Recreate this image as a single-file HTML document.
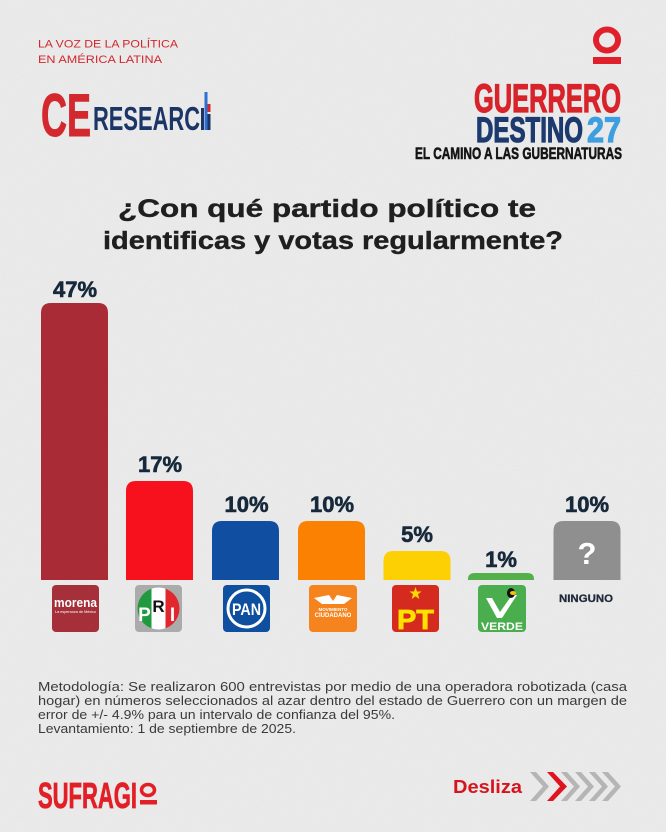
<!DOCTYPE html>
<html><head><meta charset="utf-8"><style>
html,body{margin:0;padding:0;background:#e9e9e9;}
svg{display:block;}
</style></head><body>
<svg xmlns="http://www.w3.org/2000/svg" width="666" height="832" viewBox="0 0 666 832">
<defs>
<filter id="n" x="0" y="0" width="100%" height="100%">
<feTurbulence type="fractalNoise" baseFrequency="0.9" numOctaves="2" seed="3"/>
<feColorMatrix type="matrix" values="0 0 0 0 0.5  0 0 0 0 0.5  0 0 0 0 0.5  0 0 0 -1.6 0.9"/>
</filter>
<clipPath id="pric"><circle cx="158.5" cy="608.5" r="21"/></clipPath>
</defs>
<rect width="666" height="832" fill="#eaeaea"/>
<rect width="666" height="832" filter="url(#n)" opacity="0.12"/>

<!-- header left -->
<g font-family="Liberation Sans, sans-serif" fill="#d0282d" font-size="11">
<text x="38" y="47.5" textLength="140" lengthAdjust="spacingAndGlyphs">LA VOZ DE LA POLÍTICA</text>
<text x="38" y="63" textLength="124" lengthAdjust="spacingAndGlyphs">EN AMÉRICA LATINA</text>
</g>
<text x="41" y="136" font-family="Liberation Sans, sans-serif" font-weight="bold" font-size="60" fill="#d3282e" stroke="#d3282e" stroke-width="1" textLength="50" lengthAdjust="spacingAndGlyphs">CE</text>
<text x="93" y="130" font-family="Liberation Sans, sans-serif" font-weight="bold" font-size="33" fill="#1b3566" textLength="107" lengthAdjust="spacingAndGlyphs">RESEARC</text>
<rect x="201" y="108" width="3" height="22" fill="#1b3566"/>
<rect x="204.5" y="92" width="3" height="38" fill="#2f6fcf"/>
<rect x="207.5" y="104" width="3" height="8" fill="#d3282e"/>
<rect x="207.5" y="114" width="3" height="16" fill="#1b3566"/>

<!-- header right -->
<ellipse cx="607" cy="40" rx="11" ry="10.5" fill="none" stroke="#e0202a" stroke-width="6"/>
<rect x="593" y="57" width="28" height="7" fill="#e0202a"/>
<text x="474" y="112" font-family="Liberation Sans, sans-serif" font-weight="bold" font-size="40" fill="#d8232b" stroke="#d8232b" stroke-width="1.2" textLength="147" lengthAdjust="spacingAndGlyphs">GUERRERO</text>
<text x="476" y="142" font-family="Liberation Sans, sans-serif" font-weight="bold" font-size="35" fill="#1c3a6e" stroke="#1c3a6e" stroke-width="1.2" textLength="107" lengthAdjust="spacingAndGlyphs">DESTINO</text>
<text x="587" y="142" font-family="Liberation Sans, sans-serif" font-weight="bold" font-size="35" fill="#3d9ee0" stroke="#3d9ee0" stroke-width="1.2" textLength="34" lengthAdjust="spacingAndGlyphs">27</text>
<text x="415" y="159" font-family="Liberation Sans, sans-serif" font-weight="bold" font-size="16.5" fill="#151515" stroke="#151515" stroke-width="0.6" textLength="207" lengthAdjust="spacingAndGlyphs">EL CAMINO A LAS GUBERNATURAS</text>

<!-- title -->
<g font-family="Liberation Sans, sans-serif" font-weight="bold" font-size="25" fill="#1f1f1f" stroke="#1f1f1f" stroke-width="0.4">
<text x="118" y="217" textLength="418" lengthAdjust="spacingAndGlyphs">¿Con qué partido político te</text>
<text x="103" y="249" textLength="460" lengthAdjust="spacingAndGlyphs">identificas y votas regularmente?</text>
</g>

<!-- bars -->
<path d="M41,580 V313 Q41,303 51,303 H98 Q108,303 108,313 V580 Z" fill="#a92b36"/>
<path d="M126,580 V491 Q126,481 136,481 H183 Q193,481 193,491 V580 Z" fill="#f7111d"/>
<path d="M212,580 V531 Q212,521 222,521 H269 Q279,521 279,531 V580 Z" fill="#0f4ea0"/>
<path d="M298,580 V531 Q298,521 308,521 H355 Q365,521 365,531 V580 Z" fill="#fb8103"/>
<path d="M383.5,580 V561 Q383.5,551 393.5,551 H440.5 Q450.5,551 450.5,561 V580 Z" fill="#fdd004"/>
<path d="M468,580 V579 Q468,573 475,573 H527 Q534,573 534,579 V580 Z" fill="#53b04b"/>
<path d="M553.5,580 V531 Q553.5,521 563.5,521 H610.5 Q620.5,521 620.5,531 V580 Z" fill="#8f8f8f"/>
<text x="587" y="564" text-anchor="middle" font-family="Liberation Sans, sans-serif" font-weight="bold" font-size="31" fill="#ffffff">?</text>

<!-- percent labels -->
<g font-family="Liberation Sans, sans-serif" font-weight="bold" font-size="22" fill="#16283a" stroke="#16283a" stroke-width="0.6" text-anchor="middle">
<text x="75" y="297">47%</text>
<text x="160" y="472">17%</text>
<text x="246.5" y="512">10%</text>
<text x="332" y="512">10%</text>
<text x="417" y="542">5%</text>
<text x="501" y="567">1%</text>
<text x="587" y="512">10%</text>
</g>

<!-- logos -->
<!-- morena -->
<rect x="52" y="585" width="47" height="47" rx="4" fill="#a5303a"/>
<text x="54" y="607" font-family="Liberation Sans, sans-serif" font-weight="bold" font-size="12.5" fill="#fff" textLength="43" lengthAdjust="spacingAndGlyphs">morena</text>
<text x="55" y="613" font-family="Liberation Sans, sans-serif" font-size="3.5" fill="#fff" textLength="41" lengthAdjust="spacingAndGlyphs">La esperanza de México</text>
<!-- PRI -->
<rect x="135" y="585" width="47" height="47" rx="4" fill="#ababab"/>
<g clip-path="url(#pric)">
<rect x="137" y="587" width="14.5" height="44" fill="#1f9a3e"/>
<rect x="151.5" y="587" width="14" height="44" fill="#ffffff"/>
<rect x="165.5" y="587" width="15" height="44" fill="#e1262d"/>
</g>
<g font-family="Liberation Sans, sans-serif" font-weight="bold" text-anchor="middle">
<text x="144.5" y="621" font-size="19" fill="#fff">P</text>
<text x="158.5" y="612" font-size="17" fill="#111">R</text>
<text x="172.5" y="621" font-size="19" fill="#fff">I</text>
</g>
<!-- PAN -->
<rect x="223" y="585" width="47" height="47" rx="4" fill="#0f4fa0"/>
<circle cx="246.5" cy="608.5" r="18.5" fill="#0f4fa0" stroke="#fff" stroke-width="3"/>
<text x="232" y="615" font-family="Liberation Sans, sans-serif" font-weight="bold" font-size="17" fill="#fff" textLength="29" lengthAdjust="spacingAndGlyphs">PAN</text>
<!-- MC -->
<rect x="309" y="585" width="48" height="47" rx="4" fill="#f5841f"/>
<path d="M314,598 L329,595 L333,601 L337,595 L352,598 L344,604 L322,604 Z" fill="#fff"/>
<text x="333" y="611" text-anchor="middle" font-family="Liberation Sans, sans-serif" font-weight="bold" font-size="4.5" fill="#fff">MOVIMIENTO</text>
<text x="333" y="617" text-anchor="middle" font-family="Liberation Sans, sans-serif" font-weight="bold" font-size="6" fill="#fff">CIUDADANO</text>
<!-- PT -->
<rect x="392" y="585" width="47" height="47" rx="4" fill="#d52b1e"/>
<polygon points="415.5,587 417,591.5 421.5,591.5 418,594.3 419.3,599 415.5,596.2 411.7,599 413,594.3 409.5,591.5 414,591.5" fill="#ffd800"/>
<text x="397" y="629" font-family="Liberation Sans, sans-serif" font-weight="bold" font-size="28" fill="#ffe100" stroke="#ffe100" stroke-width="0.8" textLength="37" lengthAdjust="spacingAndGlyphs">PT</text>
<!-- VERDE -->
<rect x="478" y="585" width="48" height="47" rx="4" fill="#4aae4e"/>
<path d="M486,598 L492,598 L500,612 L512,595 L517,595 L502,618 L497,618 Z" fill="#fff"/>
<ellipse cx="511" cy="593" rx="4" ry="5" fill="#111"/>
<ellipse cx="513" cy="593" rx="3" ry="2" fill="#f4c400"/>
<text x="481" y="630" font-family="Liberation Sans, sans-serif" font-weight="bold" font-size="11" fill="#fff" textLength="42" lengthAdjust="spacingAndGlyphs">VERDE</text>
<!-- NINGUNO -->
<text x="559" y="602" font-family="Liberation Sans, sans-serif" font-weight="bold" font-size="11" fill="#1e2a3a" stroke="#1e2a3a" stroke-width="0.3" textLength="54" lengthAdjust="spacingAndGlyphs">NINGUNO</text>

<!-- methodology -->
<g font-family="Liberation Sans, sans-serif" font-size="12.5" fill="#3a3a3a">
<text x="38" y="691" textLength="589" lengthAdjust="spacingAndGlyphs">Metodología: Se realizaron 600 entrevistas por medio de una operadora robotizada (casa</text>
<text x="38" y="705" textLength="589" lengthAdjust="spacingAndGlyphs">hogar) en números seleccionados al azar dentro del estado de Guerrero con un margen de</text>
<text x="38" y="719" textLength="357" lengthAdjust="spacingAndGlyphs">error de +/- 4.9% para un intervalo de confianza del 95%.</text>
<text x="38" y="733" textLength="258" lengthAdjust="spacingAndGlyphs">Levantamiento: 1 de septiembre de 2025.</text>
</g>

<!-- footer -->
<text x="38" y="808" font-family="Liberation Sans, sans-serif" font-weight="bold" font-size="36" fill="#e21f26" stroke="#e21f26" stroke-width="0.8" textLength="99" lengthAdjust="spacingAndGlyphs">SUFRAGI</text>
<ellipse cx="148" cy="790" rx="6.5" ry="5.5" fill="none" stroke="#e21f26" stroke-width="3.5"/>
<rect x="140" y="800" width="17" height="4.5" fill="#e21f26"/>

<text x="453" y="793" font-family="Liberation Sans, sans-serif" font-weight="bold" font-size="18" fill="#d7141e" textLength="69" lengthAdjust="spacingAndGlyphs">Desliza</text>
<g fill="#b5b5b5">
<polygon points="530,772 536,772 549,786.5 536,801 530,801 543,786.5"/>
<polygon points="561,772 567,772 580,786.5 567,801 561,801 574,786.5"/>
<polygon points="575,772 581,772 594,786.5 581,801 575,801 588,786.5"/>
<polygon points="589,772 595,772 608,786.5 595,801 589,801 602,786.5"/>
<polygon points="602,772 608,772 621,786.5 608,801 602,801 615,786.5"/>
</g>
<polygon points="547,772 553,772 567,786.5 553,801 547,801 560,786.5" fill="#e0141e"/>
</svg>
</body></html>
